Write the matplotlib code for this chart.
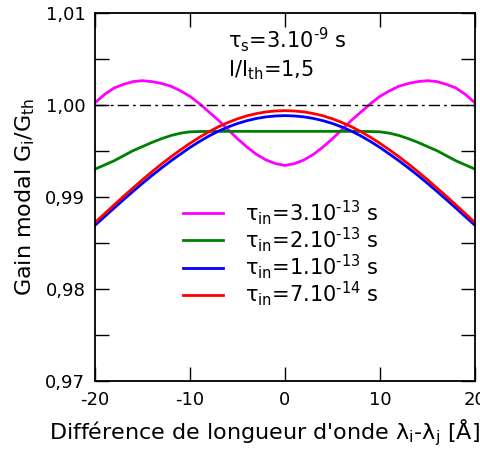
import numpy as np
import matplotlib
matplotlib.use("Agg")
import matplotlib.pyplot as plt
from matplotlib.ticker import FuncFormatter, MultipleLocator

plt.rcParams['mathtext.default'] = 'regular'
plt.rcParams['font.family'] = ['DejaVu Sans']

# wavelength difference (A), read every 1 A
x = np.arange(-20, 21, 1)

# tau_in = 3e-13 s
g_3e13 = [1.0002, 1.0011, 1.0018, 1.0022, 1.0025, 1.0026, 1.0025, 1.0023, 1.0020, 1.0015,
          1.0009, 1.0001, 0.9992, 0.9983, 0.9973, 0.9963, 0.9954, 0.9946, 0.9940, 0.9936,
          0.9934,
          0.9936, 0.9940, 0.9946, 0.9954, 0.9963, 0.9973, 0.9983, 0.9992, 1.0001, 1.0009,
          1.0015, 1.0020, 1.0023, 1.0025, 1.0026, 1.0025, 1.0022, 1.0018, 1.0011, 1.0002]
# tau_in = 2e-13 s
g_2e13 = [0.9930, 0.99345, 0.9939, 0.99445, 0.9950, 0.99545, 0.9959, 0.9963, 0.99665, 0.9969,
          0.99705, 0.99708, 0.9971, 0.9971, 0.9971, 0.9971, 0.9971, 0.9971, 0.9971, 0.9971,
          0.9971,
          0.9971, 0.9971, 0.9971, 0.9971, 0.9971, 0.9971, 0.9971, 0.9971, 0.99708, 0.99705,
          0.9969, 0.99665, 0.9963, 0.9959, 0.99545, 0.9950, 0.99445, 0.9939, 0.99345, 0.9930]
# tau_in = 1e-13 s
g_1e13 = [0.98690, 0.98783, 0.98876, 0.98968, 0.99058, 0.99146, 0.99231, 0.99312, 0.99390, 0.99463,
          0.99535, 0.99600, 0.99660, 0.99712, 0.99757, 0.99795, 0.99826, 0.99850, 0.99867, 0.99877,
          0.99881,
          0.99877, 0.99867, 0.99850, 0.99826, 0.99795, 0.99757, 0.99712, 0.99660, 0.99600, 0.99535,
          0.99463, 0.99390, 0.99312, 0.99231, 0.99146, 0.99058, 0.98968, 0.98876, 0.98783, 0.98690]
# tau_in = 7e-14 s
g_7e14 = [0.98720, 0.98815, 0.98910, 0.99004, 0.99095, 0.99185, 0.99272, 0.99355, 0.99434, 0.99509,
          0.99580, 0.99646, 0.99706, 0.99760, 0.99806, 0.99846, 0.99879, 0.99903, 0.99921, 0.99931,
          0.99935,
          0.99931, 0.99921, 0.99903, 0.99879, 0.99846, 0.99806, 0.99760, 0.99706, 0.99646, 0.99580,
          0.99509, 0.99434, 0.99355, 0.99272, 0.99185, 0.99095, 0.99004, 0.98910, 0.98815, 0.98720]

labels = ['$\\tau_{in}$=3.10$^{\u201013}$ s', '$\\tau_{in}$=2.10$^{\u201013}$ s',
          '$\\tau_{in}$=1.10$^{\u201013}$ s', '$\\tau_{in}$=7.10$^{\u201014}$ s']

fig = plt.figure(figsize=(4.81, 4.5), dpi=100)
ax = fig.add_axes([0.1975, 0.1533, 0.79, 0.8189])

ax.plot(x, g_3e13, c='#ff00ff', lw=2, label=labels[0])
ax.plot(x, g_2e13, c='green', lw=2, label=labels[1])
ax.plot(x, g_1e13, c='blue', lw=2, label=labels[2])
ax.plot(x, g_7e14, c='red', lw=2, label=labels[3])
ax.axhline(1.0, c='k', lw=1, ls=(0, (8, 3, 2, 3)))

ax.set_xlim(-20, 20)
ax.set_ylim(0.97, 1.01)
ax.xaxis.set_major_locator(MultipleLocator(10))
ax.xaxis.set_major_formatter(FuncFormatter(lambda v, p: f"{v:.0f}"))
ax.yaxis.set_major_locator(MultipleLocator(0.01))
ax.yaxis.set_minor_locator(MultipleLocator(0.005))
ax.yaxis.set_major_formatter(FuncFormatter(lambda v, p: f"{v:.2f}".replace('.', ',')))
ax.tick_params(which='both', direction='in', top=True, right=True, length=10, width=1,
               labelsize=13, pad=7)
for s in ax.spines.values():
  s.set_linewidth(1.3)

ax.set_xlabel(r"Différence de longueur d'onde λ$_i$-λ$_j$ [Å]", fontsize=16)
ax.xaxis.set_label_coords(0.445, -0.098)
ax.set_ylabel(r'Gain modal G$_i$/G$_{th}$', fontsize=16, labelpad=6)

ax.text(-6.0, 1.0062, '$\\tau_s$=3.10$^{\u20109}$ s', fontsize=15)
ax.text(-6.0, 1.0031, r'I/I$_{th}$=1,5', fontsize=15)

ax.legend(loc='upper left', bbox_to_anchor=(0.232, 0.496), frameon=False, fontsize=15,
          handlelength=1.9, handletextpad=1.05, labelspacing=-0.08, borderpad=0,
          borderaxespad=0)

plt.savefig("out.png", dpi=100)
